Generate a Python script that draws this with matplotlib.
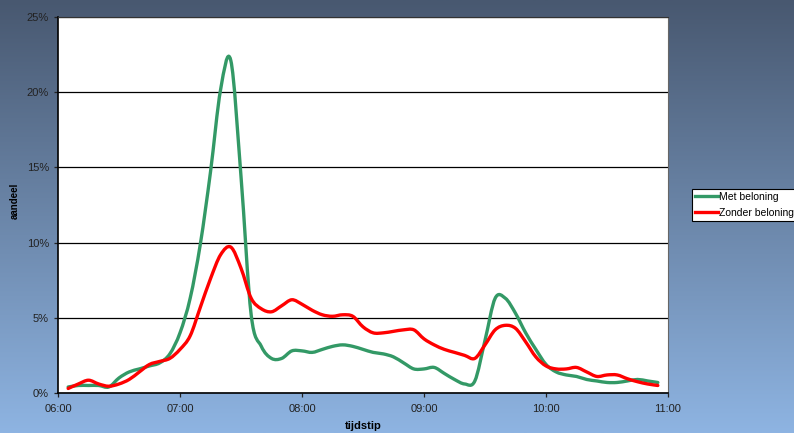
import numpy as np
import matplotlib.pyplot as plt
from matplotlib.path import Path
from matplotlib.patches import PathPatch
from matplotlib.lines import Line2D
from matplotlib.ticker import FixedLocator, FuncFormatter

plt.rcParams['font.family'] = ['Liberation Sans', 'DejaVu Sans']

# time axis: every 5 minutes from 06:05 to 10:55 (in hours)
tijd = np.arange(6 * 60 + 5, 10 * 60 + 56, 5) / 60.0

met_beloning = [
    0.4, 0.5, 0.5, 0.5, 0.4, 1.0, 1.4, 1.6, 1.8, 2.0, 2.6,
    4.0, 6.3, 9.9, 14.7, 20.2, 22.1, 14.4, 5.2, 3.1, 2.3, 2.3, 2.8,
    2.8, 2.7, 2.9, 3.1, 3.2, 3.1, 2.9, 2.7, 2.6, 2.4, 2.0, 1.6,
    1.6, 1.7, 1.3, 0.9, 0.6, 0.8, 3.5, 6.3, 6.3, 5.3, 4.0, 2.9,
    1.9, 1.4, 1.2, 1.1, 0.9, 0.8, 0.7, 0.7, 0.8, 0.9, 0.8, 0.7,
]
zonder_beloning = [
    0.3, 0.6, 0.85, 0.6, 0.45, 0.6, 0.9, 1.4, 1.9, 2.1, 2.3,
    2.9, 3.8, 5.7, 7.6, 9.2, 9.7, 8.3, 6.3, 5.6, 5.4, 5.8, 6.2,
    5.9, 5.5, 5.2, 5.1, 5.2, 5.1, 4.4, 4.0, 4.0, 4.1, 4.2, 4.2,
    3.6, 3.2, 2.9, 2.7, 2.5, 2.3, 3.2, 4.2, 4.5, 4.3, 3.4, 2.4,
    1.8, 1.6, 1.6, 1.7, 1.4, 1.1, 1.2, 1.2, 0.95, 0.75, 0.6, 0.5,
]
series = [('Met beloning', met_beloning, '#339966'),
          ('Zonder beloning', zonder_beloning, '#ff0000')]


def smooth_path(x, y):
    # Excel-style smoothed line: cubic Bezier through the points
    pts = np.column_stack([x, y])
    n = len(pts)
    verts = [pts[0]]
    codes = [Path.MOVETO]
    for i in range(n - 1):
        p0 = pts[max(i - 1, 0)]
        p1 = pts[i]
        p2 = pts[i + 1]
        p3 = pts[min(i + 2, n - 1)]
        c1 = p1 + (p2 - p0) / 6.0
        c2 = p2 - (p3 - p1) / 6.0
        verts += [c1, c2, p2]
        codes += [Path.CURVE4] * 3
    return Path(verts, codes)


fig = plt.figure(figsize=(7.94, 4.33), dpi=100)

# gradient background
bg = fig.add_axes([0, 0, 1, 1], zorder=-1)
grad = np.linspace(0, 1, 256)[:, None]
top = np.array([72, 88, 112]) / 255
bot = np.array([142, 180, 226]) / 255
img = top + (bot - top) * grad[..., None]
bg.imshow(img, aspect='auto', extent=[0, 1, 0, 1])
bg.set_axis_off()

ax = fig.add_axes([58 / 794, 40 / 433, 610 / 794, 376 / 433])
ax.set_facecolor('white')

for name, vals, col in series:
    ax.add_patch(PathPatch(smooth_path(tijd, vals), facecolor='none',
                           edgecolor=col, lw=2.4, capstyle='round',
                           joinstyle='round', zorder=3))

ax.set_xlim(6, 11)
ax.set_ylim(0, 25)
ax.yaxis.set_major_locator(FixedLocator([0, 5, 10, 15, 20, 25]))
ax.yaxis.set_major_formatter(FuncFormatter(lambda v, p: f"{v:.0f}%"))
ax.xaxis.set_major_locator(FixedLocator([6, 7, 8, 9, 10, 11]))
ax.xaxis.set_major_formatter(FuncFormatter(lambda v, p: f"{int(v):02d}:00"))
ax.grid(True, axis='y', color='black', lw=0.9, zorder=1)
ax.tick_params(labelsize=8, colors='#222222', length=3, width=0.9)
ax.tick_params(axis='x', pad=5)

ax.spines['left'].set_color('black')
ax.spines['bottom'].set_color('black')
ax.spines['left'].set_linewidth(1.2)
ax.spines['bottom'].set_linewidth(1.2)
ax.spines['top'].set_color('#333333')
ax.spines['right'].set_color('#666666')

ax.set_ylabel('aandeel', fontsize=7, fontweight='bold')
ax.yaxis.set_label_coords(-0.063, 0.51)
ax.set_xlabel('tijdstip', fontsize=8, fontweight='bold', labelpad=5)

handles = [Line2D([], [], color=c, lw=2.4) for _, _, c in series]
leg = fig.legend(handles, [s[0] for s in series], loc='upper left',
                 bbox_to_anchor=(692 / 794, 1 - 189 / 433), fontsize=7.5,
                 frameon=True, fancybox=False, handlelength=2.2,
                 handletextpad=0.1, borderpad=0.3, labelspacing=0.55,
                 borderaxespad=0)
leg.get_frame().set_edgecolor('black')
leg.get_frame().set_linewidth(0.8)
leg.get_frame().set_alpha(1)

plt.savefig('out.png', dpi=100)
